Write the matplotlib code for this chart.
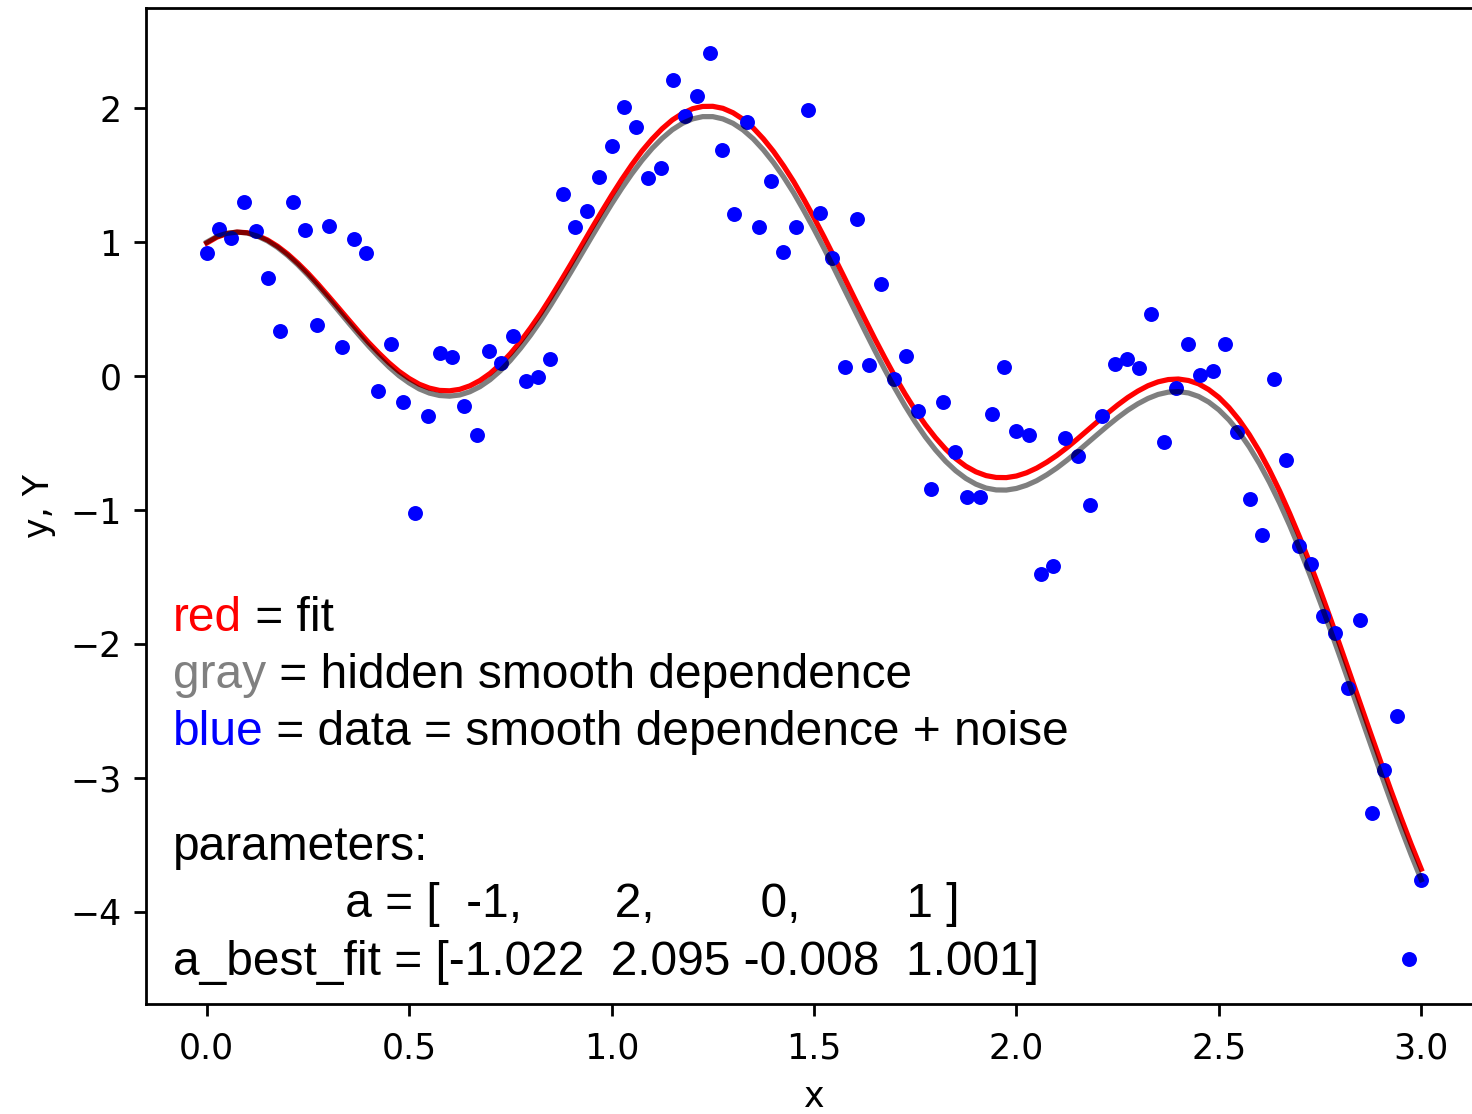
import numpy as np
import matplotlib.pyplot as plt

# noisy data points (blue)
x_data = np.linspace(0, 3, 100)
y_data = [0.92, 1.10, 1.03, 1.30, 1.08, 0.73, 0.34, 1.30, 1.09, 0.38,
          1.12, 0.22, 1.02, 0.92, -0.11, 0.24, -0.19, -1.02, -0.30, 0.17,
          0.14, -0.22, -0.44, 0.19, 0.10, 0.30, -0.04, -0.01, 0.13, 1.36,
          1.11, 1.23, 1.49, 1.72, 2.01, 1.86, 1.48, 1.55, 2.21, 1.94,
          2.09, 2.41, 1.69, 1.21, 1.90, 1.11, 1.46, 0.93, 1.11, 1.99,
          1.22, 0.88, 0.07, 1.17, 0.08, 0.69, -0.02, 0.15, -0.26, -0.84,
          -0.19, -0.57, -0.90, -0.90, -0.28, 0.07, -0.41, -0.44, -1.48, -1.42,
          -0.46, -0.60, -0.96, -0.30, 0.09, 0.13, 0.06, 0.46, -0.49, -0.09,
          0.24, 0.01, 0.04, 0.24, -0.42, -0.92, -1.19, -0.02, -0.63, -1.27,
          -1.40, -1.79, -1.92, -2.33, -1.82, -3.26, -2.94, -2.54, -4.35, -3.76]

# smooth curves, sampled every 0.025
x_curve = np.linspace(0, 3, 121)
y_hidden = [1.000, 1.042, 1.066, 1.075, 1.068, 1.045, 1.009, 0.960, 0.900, 0.831,
            0.753, 0.669, 0.581, 0.490, 0.399, 0.310, 0.224, 0.144, 0.069, 0.003,
            -0.051, -0.096, -0.127, -0.145, -0.150, -0.141, -0.117, -0.079, -0.027, 0.039,
            0.117, 0.207, 0.306, 0.414, 0.531, 0.654, 0.779, 0.907, 1.035, 1.161,
            1.284, 1.401, 1.510, 1.610, 1.699, 1.775, 1.839, 1.887, 1.920, 1.937,
            1.937, 1.920, 1.887, 1.837, 1.771, 1.689, 1.594, 1.486, 1.367, 1.235,
            1.097, 0.952, 0.802, 0.648, 0.495, 0.342, 0.192, 0.047, -0.092, -0.223,
            -0.344, -0.454, -0.551, -0.636, -0.707, -0.764, -0.807, -0.836, -0.850, -0.851,
            -0.839, -0.815, -0.781, -0.737, -0.686, -0.628, -0.566, -0.501, -0.436, -0.372,
            -0.311, -0.255, -0.207, -0.167, -0.137, -0.120, -0.116, -0.126, -0.152, -0.194,
            -0.252, -0.327, -0.419, -0.528, -0.653, -0.793, -0.947, -1.115, -1.295, -1.485,
            -1.685, -1.891, -2.103, -2.318, -2.535, -2.751, -2.965, -3.175, -3.378, -3.574,
            -3.760]
y_fit = [0.993, 1.037, 1.064, 1.075, 1.070, 1.050, 1.016, 0.969, 0.911, 0.843,
         0.768, 0.686, 0.599, 0.511, 0.422, 0.334, 0.250, 0.172, 0.099, 0.035,
         -0.018, -0.061, -0.090, -0.107, -0.110, -0.099, -0.073, -0.033, 0.020, 0.087,
         0.167, 0.258, 0.360, 0.469, 0.588, 0.712, 0.839, 0.968, 1.098, 1.225,
         1.349, 1.467, 1.578, 1.680, 1.769, 1.847, 1.912, 1.961, 1.996, 2.013,
         2.014, 1.999, 1.966, 1.917, 1.852, 1.771, 1.677, 1.569, 1.451, 1.320,
         1.182, 1.038, 0.888, 0.736, 0.582, 0.430, 0.280, 0.136, -0.003, -0.133,
         -0.254, -0.363, -0.460, -0.545, -0.616, -0.673, -0.715, -0.743, -0.757, -0.758,
         -0.746, -0.722, -0.687, -0.643, -0.592, -0.534, -0.471, -0.406, -0.341, -0.277,
         -0.216, -0.160, -0.112, -0.072, -0.043, -0.026, -0.022, -0.033, -0.058, -0.101,
         -0.159, -0.235, -0.327, -0.436, -0.561, -0.702, -0.857, -1.026, -1.206, -1.397,
         -1.597, -1.805, -2.018, -2.234, -2.451, -2.668, -2.882, -3.093, -3.298, -3.495,
         -3.681]

a_true = [-1, 2, 0, 1]
a_best_fit = [-1.022, 2.095, -0.008, 1.001]

dpi = 250
fig = plt.figure(figsize=(1472 / dpi, 1114 / dpi), dpi=dpi)
ax = fig.add_axes([146 / 1472, 110 / 1114, 1336 / 1472, 996 / 1114])

ax.plot(x_curve, y_fit, color='r', lw=1.5)
ax.plot(x_data, y_data, 'o', color='b', markersize=3.8, markeredgewidth=0.5)
ax.plot(x_curve, y_hidden, color='k', alpha=0.5, lw=1.5)

ax.tick_params(axis='x', pad=4.5)
ax.set_xlabel('x')
ax.set_ylabel('y, Y')

fs = 13.8
font = 'Liberation Sans'
x0 = -0.084


def colored_line(y, word, color, rest):
    t = ax.text(x0, y, word, color=color, fontsize=fs, family=font, va='baseline')
    ax.annotate(rest, xy=(1, 0), xycoords=t, va='bottom', ha='left',
                fontsize=fs, family=font)


colored_line(-1.902, 'red', 'r', ' = fit')
colored_line(-2.330, 'gray', 'gray', ' = hidden smooth dependence')
colored_line(-2.757, 'blue', 'b', ' = data = smooth dependence + noise')

a_str = '             a = [%4i, %7i, %8i, %8i ]' % tuple(a_true)
fit_str = 'a_best_fit = ' + str(np.array(a_best_fit))
ax.text(x0, -3.613, 'parameters:', fontsize=fs, family=font, va='baseline')
ax.text(x0, -4.041, a_str, fontsize=fs, family=font, va='baseline')
ax.text(x0, -4.468, fit_str, fontsize=fs, family=font, va='baseline')

fig.savefig('out.png', dpi=dpi)
